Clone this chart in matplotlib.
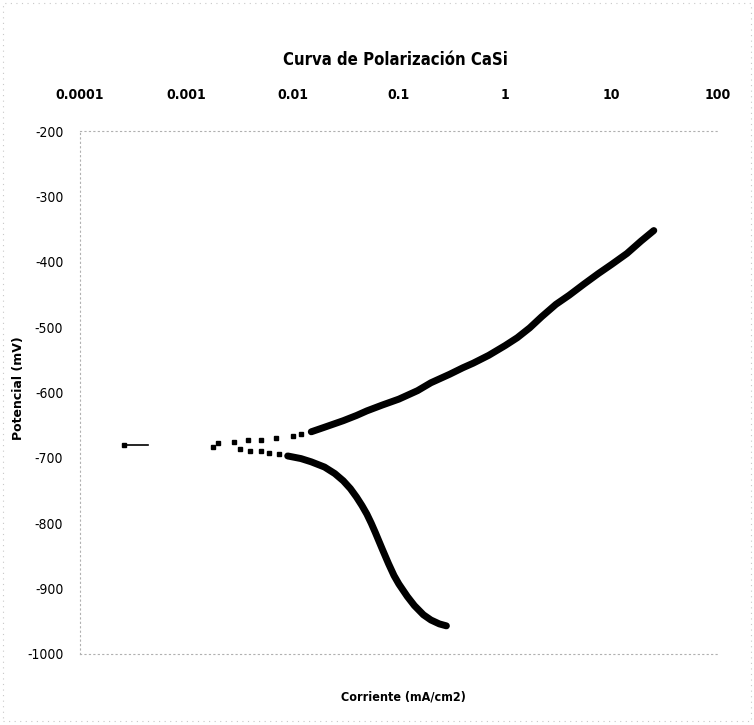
import matplotlib.pyplot as plt
from matplotlib.patches import Rectangle

plt.rcParams['axes.unicode_minus'] = False
narrow = ['Liberation Sans Narrow', 'DejaVu Sans']

# Corriente (mA/cm2) y Potencial (mV)
pasivo_i = [2.6e-4, 2.9e-4, 3.3e-4, 3.8e-4, 4.4e-4]
pasivo_e = [-680, -680, -680, -680, -680]

anod_sueltos_i = [0.0020, 0.0028, 0.0038, 0.005, 0.007, 0.010, 0.012]
anod_sueltos_e = [-677, -675, -673, -672, -670, -667, -664]

anod_i = [0.015, 0.02, 0.03, 0.04, 0.05, 0.07, 0.1, 0.15, 0.2, 0.3, 0.4, 0.5,
          0.7, 1.0, 1.3, 1.7, 2.2, 3.0, 4.0, 5.5, 7.5, 10, 14, 19, 25]
anod_e = [-660, -653, -643, -635, -628, -619, -610, -597, -585, -572, -562, -555,
          -543, -528, -516, -501, -484, -465, -451, -434, -418, -404, -387, -368, -352]

cat_sueltos_i = [0.0018, 0.0032, 0.004, 0.005, 0.006, 0.0075]
cat_sueltos_e = [-684, -686, -689, -690, -692, -694]

cat_i = [0.009, 0.012, 0.015, 0.02, 0.025, 0.03, 0.035, 0.04, 0.045, 0.05, 0.055,
         0.06, 0.07, 0.08, 0.09, 0.1, 0.12, 0.14, 0.17, 0.2, 0.24, 0.28]
cat_e = [-697, -701, -706, -714, -724, -735, -747, -760, -773, -786, -800,
         -814, -840, -862, -880, -893, -912, -926, -940, -948, -954, -957]

xticks = [0.0001, 0.001, 0.01, 0.1, 1, 10, 100]
xticklabels = ['0.0001', '0.001', '0.01', '0.1', '1', '10', '100']
yticks = [-200, -300, -400, -500, -600, -700, -800, -900, -1000]

fig = plt.figure(figsize=(7.54, 7.25), dpi=100)
ax = fig.add_axes([0.106, 0.098, 0.846, 0.721])

ax.plot(pasivo_i, pasivo_e, color='black', lw=1.2)
ax.plot(pasivo_i[:1], pasivo_e[:1], 's', color='black', ms=3.5)
ax.plot(anod_sueltos_i, anod_sueltos_e, 's', color='black', ms=3.2, ls='none')
ax.plot(cat_sueltos_i, cat_sueltos_e, 's', color='black', ms=3.2, ls='none')
ax.plot(anod_i, anod_e, color='black', lw=5, solid_capstyle='round')
ax.plot(cat_i, cat_e, color='black', lw=5, solid_capstyle='round')

ax.set_xscale('log')
ax.set_xlim(1e-4, 100)
ax.set_ylim(-1000, -200)
ax.xaxis.tick_top()
ax.set_xticks(xticks)
ax.set_xticklabels(xticklabels, family=narrow, fontstretch='condensed',
                   fontweight='bold', fontsize=10)
ax.minorticks_off()
ax.set_yticks(yticks)
ax.set_yticklabels([str(v) for v in yticks], family=narrow,
                   fontstretch='condensed', fontsize=10)
ax.tick_params(axis='y', length=0, pad=12)
ax.tick_params(axis='x', length=0, pad=21)

for side in ['left', 'top', 'bottom']:
    ax.spines[side].set_color('#b0b0b0')
    ax.spines[side].set_linestyle((0, (1, 3)))
    ax.spines[side].set_linewidth(0.8)
ax.spines['right'].set_visible(False)

# marco del area del grafico
fig.patches.append(Rectangle((0.004, 0.006), 0.992, 0.99, transform=fig.transFigure,
                             fill=False, edgecolor='#c8c8c8', lw=0.8,
                             linestyle=(0, (1, 4))))

fig.text(0.524, 0.917, 'Curva de Polarización CaSi', ha='center', va='center',
         family=narrow, fontstretch='condensed', fontweight='bold', fontsize=12)
fig.text(0.535, 0.038, 'Corriente (mA/cm2)', ha='center', va='center',
         family=narrow, fontstretch='condensed', fontweight='bold', fontsize=9)
fig.text(0.025, 0.465, 'Potencial (mV)', ha='center', va='center', rotation=90,
         fontweight='bold', fontsize=9)

fig.savefig('out.png', dpi=100)
